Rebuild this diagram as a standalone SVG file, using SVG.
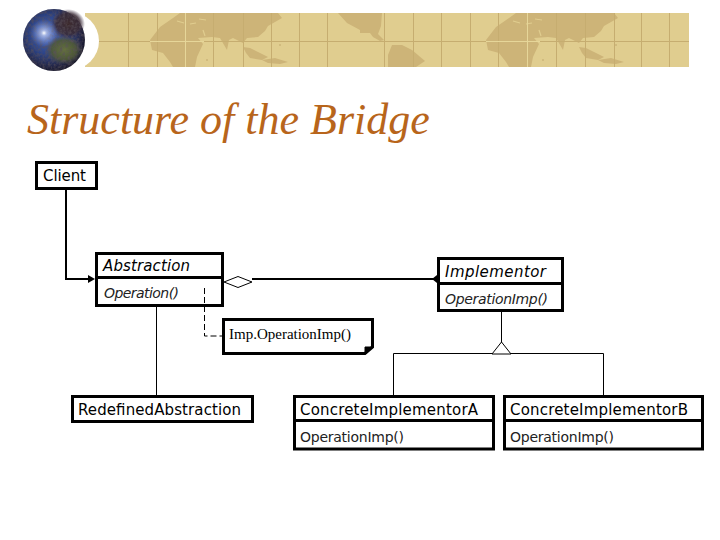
<svg xmlns="http://www.w3.org/2000/svg" width="720" height="540" viewBox="0 0 720 540">
<style>
.box{fill:#fff;stroke:#000;stroke-width:3}
.div{stroke:#000;stroke-width:3;fill:none}
.thin{stroke:#000;stroke-width:1;fill:none}
.thick{stroke:#000;stroke-width:2;fill:none}
.t{font-family:"DejaVu Sans",sans-serif;font-size:15px;fill:#000}
.i{font-style:italic}
.l{fill:#222;font-size:14px}
.land{fill:#cdb478}
.grid{stroke:#c6ad70;stroke-width:1}
</style>
<defs>
<radialGradient id="gl" cx="0.42" cy="0.42" r="0.62">
<stop offset="0" stop-color="#4f69b8"/><stop offset="0.5" stop-color="#2c4488"/><stop offset="0.82" stop-color="#232646"/><stop offset="1" stop-color="#121222"/>
</radialGradient>
<radialGradient id="hi"><stop offset="0" stop-color="#fff"/><stop offset="0.2" stop-color="#b9c8f2" stop-opacity="0.8"/><stop offset="1" stop-color="#6a88d8" stop-opacity="0"/></radialGradient>
<radialGradient id="gr"><stop offset="0" stop-color="#66743a"/><stop offset="0.65" stop-color="#4f5a34" stop-opacity="0.9"/><stop offset="1" stop-color="#4a4a50" stop-opacity="0"/></radialGradient>
<radialGradient id="br"><stop offset="0" stop-color="#3d2a2c"/><stop offset="0.7" stop-color="#3a2a34" stop-opacity="0.85"/><stop offset="1" stop-color="#3a2a40" stop-opacity="0"/></radialGradient>
<filter id="mottle" x="0" y="0" width="1" height="1">
<feTurbulence type="fractalNoise" baseFrequency="0.35" numOctaves="2" seed="4"/>
<feColorMatrix values="0 0 0 0 0.1  0 0 0 0 0.08  0 0 0 0 0.1  1.6 0 0 0 -0.6"/>
<feComposite in2="SourceAlpha" operator="in"/>
</filter>
<g id="oldworld">
<path class="land" d="M180 13L173 18L160 27L150 40L152 50L163 53L170 62L173 67H195L197 57L203 44L198 38L212 37L220 38L227 50L229 40L233 38L243 43L247 38L258 37L265 31L268 26L282 18L278 13Z"/>
<path class="land" d="M243 47L250 48L258 52L268 57L262 60L250 58L246 53Z"/>
<path class="land" d="M262 60L275 58L288 62L280 64L268 63Z"/>
<circle class="land" cx="280" cy="45" r="1"/><circle class="land" cx="207" cy="60" r="1"/>
<path d="M177 21L184 23M190 24L196 23M199 19L206 20M203 30L205 36" stroke="#e0cd8f" stroke-width="1.200" fill="none"/>
</g>
</defs>
<rect width="720" height="540" fill="#fff"/>
<g id="banner">
<rect x="85" y="13" width="604" height="54" fill="#e0cd8f"/>
<use href="#oldworld"/>
<use href="#oldworld" x="336"/>
<path class="land" d="M338 13L347 23L360 30L360 33L370 33L373 37L380 41L384 40L378 34L381 26L382 13Z"/>
<path class="land" d="M392 45L402 45L412 50L425 61L416 67H388L388 55Z"/>
<path class="grid" d="M128.500 13V67M157.500 13V67M213.500 13V67M243.500 13V67M271.500 13V67M299.500 13V67M327.500 13V67M384.500 13V67M413.500 13V67M441.500 13V67M470.500 13V67M498.500 13V67M556.500 13V67M585.500 13V67M614.500 13V67M641.500 13V67M669.500 13V67M85 41.500H689"/>
<path d="M185.500 13V67M527.500 13V67M150 41.500H204M486 41.500H540" stroke="#e6d699" stroke-width="1"/>
<circle cx="70" cy="41" r="29" fill="#fff"/>
</g>
<g id="globe">
<circle cx="54" cy="40" r="31" fill="url(#gl)"/>
<ellipse cx="64" cy="50" rx="19" ry="15" fill="url(#gr)"/>
<ellipse cx="68" cy="24" rx="17" ry="15" fill="url(#br)"/>
<circle cx="54" cy="40" r="31" fill="#000" filter="url(#mottle)"/>
<circle cx="44" cy="33" r="14" fill="url(#hi)"/>
</g>
<text id="title" x="27" y="134" font-family="Liberation Serif, serif" font-style="italic" font-size="44" fill="#b8651b">Structure of the Bridge</text>
<g id="connectors">
<path class="thick" d="M66 190V279H90"/>
<path d="M88 275L95 279L88 283Z" fill="#000"/>
<path class="thick" d="M252 279H434"/>
<path d="M432 279L437 275V283Z" fill="#000"/>
<path d="M224 282L238 276.500L252 282L238 287.500Z" fill="#fff" stroke="#000" stroke-width="1"/>
<path class="thin" d="M156.500 307V396M501.500 312V343M393.500 396V353.500H603.500V396"/>
<path d="M501.500 342L511 354H492Z" fill="#fff" stroke="#000" stroke-width="1"/>
</g>
<g id="client"><rect class="box" x="36.500" y="162.500" width="60" height="26"/><text class="t" x="43" y="181" textLength="43">Client</text></g>
<g id="abstraction"><rect class="box" x="96.500" y="253.500" width="126" height="52"/><path class="div" d="M96 277.500H223"/>
<text class="t i" x="103" y="271" textLength="87">Abstraction</text><text class="t i l" x="104" y="298" textLength="75">Operation()</text></g>
<path class="thin" stroke-dasharray="6 3" d="M204.500 288V336H222"/>
<g id="implementor"><rect class="box" x="438.500" y="258.500" width="124" height="52"/><path class="div" d="M438 283.500H563"/>
<text class="t i" x="445" y="277" textLength="101">Implementor</text><text class="t i l" x="445" y="304" textLength="103">OperationImp()</text></g>
<g id="note"><path class="box" d="M223.500 319.500H372.500V347L365 353.500H223.500Z"/><path d="M365 353.500V347H372.500Z" fill="#000" stroke="#000"/>
<text x="229" y="339" font-family="Liberation Serif, serif" font-size="15" textLength="122">Imp.OperationImp()</text></g>
<g id="redefined"><rect class="box" x="72.500" y="396.500" width="180" height="25"/><text class="t" x="78" y="415" textLength="163">RedefinedAbstraction</text></g>
<g id="concreteA"><rect class="box" x="294.500" y="396.500" width="199" height="52.500"/><path class="div" d="M294 420.500H494"/>
<text class="t" x="300" y="415" textLength="178">ConcreteImplementorA</text><text class="t l" x="300" y="442" textLength="104">OperationImp()</text></g>
<g id="concreteB"><rect class="box" x="504.500" y="396.500" width="198" height="52.500"/><path class="div" d="M504 420.500H703"/>
<text class="t" x="510" y="415" textLength="178">ConcreteImplementorB</text><text class="t l" x="510" y="442" textLength="104">OperationImp()</text></g>
</svg>
